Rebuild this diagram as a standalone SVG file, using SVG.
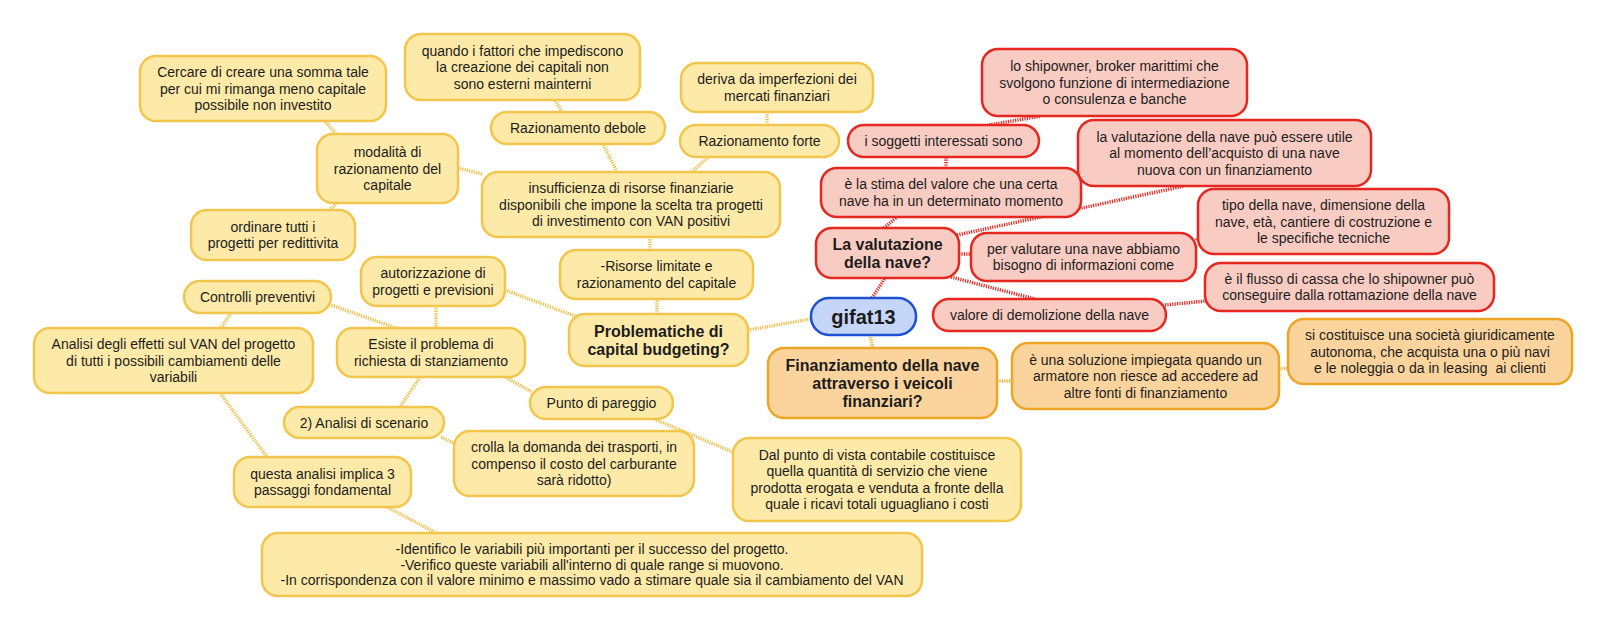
<svg xmlns="http://www.w3.org/2000/svg" width="1606" height="632" viewBox="0 0 1606 632">
<style>
.y rect{fill:#FDEAA8;stroke:#F2C64C;stroke-width:2.5}
.r rect{fill:#F9CCC3;stroke:#E5271F;stroke-width:2.5}
.o rect{fill:#FAD49C;stroke:#EDA526;stroke-width:2.5}
.b rect{fill:#C6D6F8;stroke:#1F4FD2;stroke-width:2.5}
text{font-family:"Liberation Sans",Arial,sans-serif;font-size:14px;fill:#1c1c1c;text-anchor:middle}
text.h{font-weight:bold;font-size:16px}
text.g{font-weight:bold;font-size:20px}
.cy line{stroke:#EFBE45;stroke-width:3.5;stroke-dasharray:1.2 1.2;fill:none}
.cr line{stroke:#E3261E;stroke-width:3.5;stroke-dasharray:1.2 1.2;fill:none}
.co line{stroke:#EDB030;stroke-width:3.5;stroke-dasharray:1.2 1.2;fill:none}
</style>
<rect width="1606" height="632" fill="#ffffff"/>
<g id="connectors">
<g class="cy">
<line x1="748" y1="330" x2="811" y2="319"/>
<line x1="657" y1="314" x2="657" y2="299"/>
<line x1="650" y1="250" x2="650" y2="237"/>
<line x1="617" y1="172" x2="603" y2="144"/>
<line x1="692" y1="172" x2="708" y2="157"/>
<line x1="562" y1="112" x2="555" y2="100"/>
<line x1="767" y1="125" x2="767" y2="112"/>
<line x1="482" y1="174" x2="458" y2="168"/>
<line x1="336" y1="134" x2="325" y2="121"/>
<line x1="337" y1="203" x2="330" y2="210"/>
<line x1="580" y1="318" x2="505" y2="290"/>
<line x1="436" y1="306" x2="436" y2="328"/>
<line x1="396" y1="328" x2="331" y2="305"/>
<line x1="231" y1="313" x2="221" y2="328"/>
<line x1="220" y1="393" x2="267" y2="457"/>
<line x1="420" y1="377" x2="400" y2="407"/>
<line x1="441" y1="437" x2="456" y2="444"/>
<line x1="505" y1="377" x2="532" y2="392"/>
<line x1="654" y1="419" x2="735" y2="453"/>
<line x1="387" y1="507" x2="436" y2="533"/>
</g>
<g class="co">
<line x1="870" y1="335" x2="873" y2="348"/>
<line x1="997" y1="381" x2="1012" y2="381"/>
<line x1="1279" y1="369" x2="1288" y2="368"/>
</g>
<g class="cr">
<line x1="872" y1="298" x2="885" y2="278"/>
<line x1="884" y1="228" x2="897" y2="217"/>
<line x1="946" y1="168" x2="946" y2="157"/>
<line x1="989" y1="125" x2="1041" y2="116"/>
<line x1="957" y1="235" x2="1184" y2="186"/>
<line x1="959" y1="254" x2="971" y2="254"/>
<line x1="1196" y1="240" x2="1199" y2="237"/>
<line x1="951" y1="277" x2="1035" y2="299"/>
<line x1="1165" y1="305" x2="1206" y2="301"/>
</g>
</g>

<g id="n1" class="y"><rect x="405" y="34" width="235" height="66" rx="16"/><text x="522.5" y="55.5">quando i fattori che impediscono<tspan x="522.5" dy="16.5">la creazione dei capitali non</tspan><tspan x="522.5" dy="16.5">sono esterni mainterni</tspan></text></g>
<g id="n2" class="y"><rect x="140" y="56" width="246" height="65" rx="16"/><text x="263" y="77">Cercare di creare una somma tale<tspan x="263" dy="16.5">per cui mi rimanga meno capitale</tspan><tspan x="263" dy="16.5">possibile non investito</tspan></text></g>
<g id="n3" class="y"><rect x="681" y="63" width="192" height="49" rx="16"/><text x="777" y="84.25">deriva da imperfezioni dei<tspan x="777" dy="16.5">mercati finanziari</tspan></text></g>
<g id="n4" class="y"><rect x="491" y="112" width="174" height="32" rx="16"/><text x="578" y="133">Razionamento debole</text></g>
<g id="n5" class="y"><rect x="680" y="125" width="159" height="32" rx="16"/><text x="759.5" y="146">Razionamento forte</text></g>
<g id="n6" class="y"><rect x="317" y="134" width="141" height="69" rx="16"/><text x="387.5" y="157">modalità di<tspan x="387.5" dy="16.5">razionamento del</tspan><tspan x="387.5" dy="16.5">capitale</tspan></text></g>
<g id="n7" class="y"><rect x="482" y="172" width="298" height="65" rx="16"/><text x="631" y="193">insufficienza di risorse finanziarie<tspan x="631" dy="16.5">disponibili che impone la scelta tra progetti</tspan><tspan x="631" dy="16.5">di investimento con VAN positivi</tspan></text></g>
<g id="n8" class="y"><rect x="191" y="210" width="164" height="50" rx="16"/><text x="273" y="231.75">ordinare tutti i<tspan x="273" dy="16.5">progetti per redittivita</tspan></text></g>
<g id="n9" class="y"><rect x="560" y="250" width="193" height="49" rx="16"/><text x="656.5" y="271.25">-Risorse limitate e<tspan x="656.5" dy="16.5">razionamento del capitale</tspan></text></g>
<g id="n10" class="y"><rect x="361" y="257" width="144" height="49" rx="16"/><text x="433" y="278.25">autorizzazione di<tspan x="433" dy="16.5">progetti e previsioni</tspan></text></g>
<g id="n11" class="y"><rect x="184" y="281" width="147" height="32" rx="16"/><text x="257.5" y="302">Controlli preventivi</text></g>
<g id="n12" class="y"><rect x="569" y="314" width="179" height="52" rx="16"/><text class="h" x="658.5" y="336.5">Problematiche di<tspan x="658.5" dy="18">capital budgeting?</tspan></text></g>
<g id="n13" class="y"><rect x="337" y="328" width="188" height="49" rx="16"/><text x="431" y="349.25">Esiste il problema di<tspan x="431" dy="16.5">richiesta di stanziamento</tspan></text></g>
<g id="n14" class="y"><rect x="34" y="328" width="279" height="65" rx="16"/><text x="173.5" y="349">Analisi degli effetti sul VAN del progetto<tspan x="173.5" dy="16.5">di tutti i possibili cambiamenti delle</tspan><tspan x="173.5" dy="16.5">variabili</tspan></text></g>
<g id="n15" class="y"><rect x="530" y="387" width="143" height="32" rx="16"/><text x="601.5" y="408">Punto di pareggio</text></g>
<g id="n16" class="y"><rect x="284" y="407" width="160" height="31" rx="15.5"/><text x="364" y="427.5">2) Analisi di scenario</text></g>
<g id="n17" class="y"><rect x="454" y="431" width="240" height="65" rx="16"/><text x="574" y="452">crolla la domanda dei trasporti, in<tspan x="574" dy="16.5">compenso il costo del carburante</tspan><tspan x="574" dy="16.5">sarà ridotto)</tspan></text></g>
<g id="n18" class="y"><rect x="733" y="438" width="288" height="83" rx="16"/><text x="877" y="459.75">Dal punto di vista contabile costituisce<tspan x="877" dy="16.5">quella quantità di servizio che viene</tspan><tspan x="877" dy="16.5">prodotta erogata e venduta a fronte della</tspan><tspan x="877" dy="16.5">quale i ricavi totali uguagliano i costi</tspan></text></g>
<g id="n19" class="y"><rect x="234" y="457" width="177" height="50" rx="16"/><text x="322.5" y="478.75">questa analisi implica 3<tspan x="322.5" dy="16.5">passaggi fondamental</tspan></text></g>
<g id="n20" class="y"><rect x="262" y="533" width="660" height="63" rx="16"/><text x="592" y="554">-Identifico le variabili più importanti per il successo del progetto.<tspan x="592" dy="15.5">-Verifico queste variabili all'interno di quale range si muovono.</tspan><tspan x="592" dy="15.5">-In corrispondenza con il valore minimo e massimo vado a stimare quale sia il cambiamento del VAN</tspan></text></g>

<g id="r1" class="r"><rect x="982" y="49" width="265" height="67" rx="16"/><text x="1114.5" y="71">lo shipowner, broker marittimi che<tspan x="1114.5" dy="16.5">svolgono funzione di intermediazione</tspan><tspan x="1114.5" dy="16.5">o consulenza e banche</tspan></text></g>
<g id="r2" class="r"><rect x="848" y="125" width="191" height="32" rx="16"/><text x="943.5" y="146">i soggetti interessati sono</text></g>
<g id="r3" class="r"><rect x="1078" y="120" width="293" height="66" rx="16"/><text x="1224.5" y="141.5">la valutazione della nave può essere utile<tspan x="1224.5" dy="16.5">al momento dell’acquisto di una nave</tspan><tspan x="1224.5" dy="16.5">nuova con un finanziamento</tspan></text></g>
<g id="r4" class="r"><rect x="821" y="168" width="260" height="49" rx="16"/><text x="951" y="189.25">è la stima del valore che una certa<tspan x="951" dy="16.5">nave ha in un determinato momento</tspan></text></g>
<g id="r5" class="r"><rect x="1198" y="189" width="251" height="65" rx="16"/><text x="1323.5" y="210">tipo della nave, dimensione della<tspan x="1323.5" dy="16.5">nave, età, cantiere di costruzione e</tspan><tspan x="1323.5" dy="16.5">le specifiche tecniche</tspan></text></g>
<g id="r6" class="r"><rect x="816" y="228" width="143" height="50" rx="16"/><text class="h" x="887.5" y="249.5">La valutazione<tspan x="887.5" dy="18">della nave?</tspan></text></g>
<g id="r7" class="r"><rect x="971" y="233" width="225" height="48" rx="16"/><text x="1083.5" y="253.75">per valutare una nave abbiamo<tspan x="1083.5" dy="16.5">bisogno di informazioni come</tspan></text></g>
<g id="r8" class="r"><rect x="1205" y="263" width="289" height="48" rx="16"/><text x="1349.5" y="283.75">è il flusso di cassa che lo shipowner può<tspan x="1349.5" dy="16.5">conseguire dalla rottamazione della nave</tspan></text></g>
<g id="r9" class="r"><rect x="933" y="299" width="233" height="32" rx="16"/><text x="1049.5" y="320">valore di demolizione della nave</text></g>

<g id="root" class="b"><rect x="811" y="298" width="105" height="37" rx="18"/><text class="g" x="863.5" y="323.5">gifat13</text></g>

<g id="o1" class="o"><rect x="768" y="348" width="229" height="70" rx="16"/><text class="h" x="882.5" y="370.5">Finanziamento della nave<tspan x="882.5" dy="18">attraverso i veicoli</tspan><tspan x="882.5" dy="18">finanziari?</tspan></text></g>
<g id="o2" class="o"><rect x="1012" y="343" width="267" height="66" rx="16"/><text x="1145.5" y="364.5">è una soluzione impiegata quando un<tspan x="1145.5" dy="16.5">armatore non riesce ad accedere ad</tspan><tspan x="1145.5" dy="16.5">altre fonti di finanziamento</tspan></text></g>
<g id="o3" class="o"><rect x="1288" y="319" width="284" height="65" rx="16"/><text x="1430" y="340">si costituisce una società giuridicamente<tspan x="1430" dy="16.5">autonoma, che acquista una o più navi</tspan><tspan x="1430" dy="16.5">e le noleggia o da in leasing&#160; ai clienti</tspan></text></g>
</svg>
